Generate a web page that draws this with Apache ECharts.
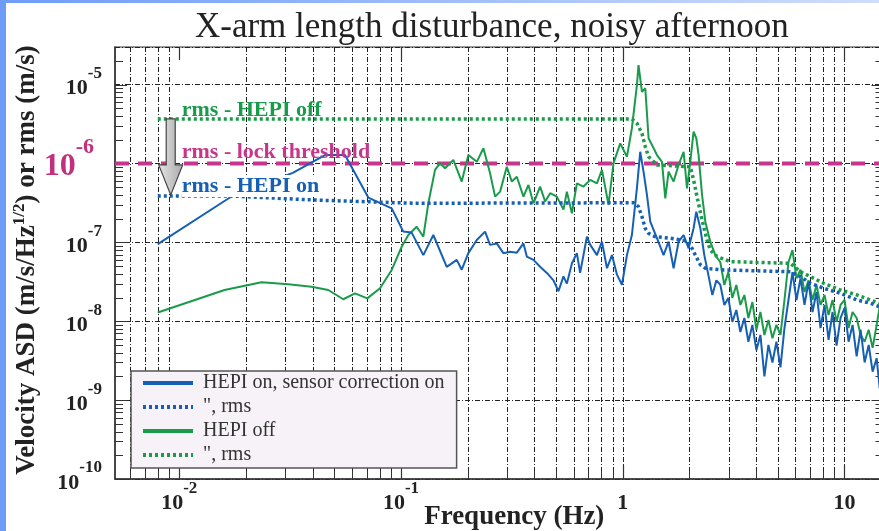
<!DOCTYPE html>
<html>
<head>
<meta charset="utf-8">
<title>X-arm length disturbance, noisy afternoon</title>
<script src="https://cdn.jsdelivr.net/npm/echarts@6/dist/echarts.min.js"></script>
<style>
  html, body { margin: 0; padding: 0; background: #fff; }
  #chart { width: 879px; height: 531px; }
</style>
</head>
<body>
<div id="chart"></div>
<script>
var SERIF = "'Liberation Serif', 'DejaVu Serif', serif";

// [frequency (Hz), velocity ASD (m/s/Hz^1/2)]
var hepiOnAsd = [
  [0.0080, 9.5e-8], [0.0174, 3.9e-7], [0.0325, 7.6e-7], [0.0454, 1.28e-6], [0.0559, 1.28e-6],
  [0.0712, 3.7e-7], [0.0908, 2.7e-7], [0.1024, 1.37e-7], [0.1117, 1.33e-7], [0.1261, 6.9e-8],
  [0.1399, 1.24e-7], [0.1608, 4.9e-8], [0.1784, 6.0e-8], [0.1879, 4.5e-8], [0.2012, 7.3e-8],
  [0.2197, 1.07e-7], [0.2394, 1.37e-7], [0.2522, 9.3e-8], [0.2704, 9.7e-8], [0.2896, 7.3e-8],
  [0.3105, 7.6e-8], [0.3330, 7.4e-8], [0.3566, 9.7e-8], [0.3694, 6.6e-8], [0.3957, 6.0e-8],
  [0.4240, 4.9e-8], [0.4547, 4.1e-8], [0.4872, 3.3e-8], [0.5131, 2.4e-8], [0.5403, 3.7e-8],
  [0.5598, 3.0e-8], [0.5898, 5.4e-8], [0.6211, 7.3e-8], [0.6427, 4.1e-8], [0.6893, 1.18e-7],
  [0.714, 9.3e-8], [0.765, 6.9e-8], [0.806, 1.02e-7], [0.849, 4.7e-8], [0.894, 6.9e-8],
  [0.942, 3.9e-8], [0.992, 2.9e-8], [1.045, 6.9e-8], [1.100, 1.24e-7], [1.159, 4.9e-7],
  [1.199, 1.41e-6], [1.241, 7.9e-7], [1.286, 4.0e-7], [1.331, 1.83e-7], [1.427, 1.13e-7],
  [1.528, 6.9e-8], [1.610, 1.02e-7], [1.696, 4.7e-8], [1.786, 1.02e-7], [1.882, 1.24e-7],
  [1.982, 8.4e-8], [2.087, 1.51e-7], [2.147, 2.45e-7], [2.239, 1.51e-7], [2.333, 6.9e-8],
  [2.432, 3.9e-8], [2.536, 2.15e-8], [2.644, 3.3e-8], [2.755, 2.9e-8], [2.872, 1.61e-8],
  [2.994, 1.97e-8], [3.121, 9.8e-9], [3.254, 1.39e-8], [3.392, 7.3e-9], [3.537, 1.10e-8],
  [3.687, 5.5e-9], [3.844, 9.0e-9], [4.007, 4.3e-9], [4.178, 6.7e-9], [4.355, 2.0e-9],
  [4.540, 5.0e-9], [4.733, 3.0e-9], [4.934, 5.5e-9], [5.144, 2.6e-9], [5.363, 8.2e-9],
  [5.591, 1.86e-8], [5.828, 4.2e-8], [6.076, 1.86e-8], [6.334, 3.5e-8], [6.604, 1.61e-8],
  [6.884, 3.15e-8], [7.177, 1.31e-8], [7.482, 2.35e-8], [7.800, 8.2e-9], [8.131, 1.61e-8],
  [8.477, 5.8e-9], [8.837, 1.31e-8], [9.213, 4.9e-9], [9.604, 1.10e-8], [10.01, 1.47e-8],
  [10.44, 5.5e-9], [10.88, 9.0e-9], [11.35, 3.6e-9], [11.83, 7.8e-9], [12.33, 3.0e-9],
  [12.86, 5.0e-9], [13.40, 2.3e-9], [13.97, 3.4e-9], [14.42, 1.42e-9]
];

var hepiOnRms = [
  [0.0080, 3.87e-7], [0.0172, 3.87e-7], [0.0409, 3.44e-7], [0.1157, 3.13e-7], [1.119, 3.18e-7],
  [1.178, 2.84e-7], [1.221, 2.12e-7], [1.264, 1.5e-7], [1.308, 1.3e-7], [1.402, 1.18e-7],
  [1.639, 1.13e-7], [1.949, 1.04e-7], [2.053, 8.4e-8], [2.125, 6.9e-8], [2.239, 5.2e-8],
  [2.358, 4.7e-8], [2.852, 4.47e-8], [5.705, 4.25e-8], [6.330, 3.67e-8], [7.024, 3.03e-8],
  [8.064, 2.62e-8], [9.592, 2.26e-8], [11.41, 1.86e-8], [13.10, 1.69e-8], [14.39, 1.53e-8]
];

var hepiOffAsd = [
  [0.0080, 1.29e-8], [0.0160, 2.49e-8], [0.0235, 3.12e-8], [0.0310, 2.94e-8], [0.0395, 2.74e-8],
  [0.0470, 2.49e-8], [0.0549, 1.90e-8], [0.0620, 2.26e-8], [0.0705, 1.95e-8], [0.0804, 2.62e-8],
  [0.0908, 4.47e-8], [0.1007, 8.8e-8], [0.1079, 1.24e-7], [0.1177, 1.58e-7], [0.1261, 1.18e-7],
  [0.1328, 3.13e-7], [0.1424, 8.3e-7], [0.1500, 1.01e-6], [0.1580, 8.7e-7], [0.1722, 1.11e-6],
  [0.1879, 5.9e-7], [0.2012, 1.28e-6], [0.2197, 1.05e-6], [0.2353, 1.56e-6], [0.2522, 7.5e-7],
  [0.2657, 3.8e-7], [0.2799, 4.4e-7], [0.3000, 9.1e-7], [0.3161, 5.9e-7], [0.3330, 6.8e-7],
  [0.3566, 3.8e-7], [0.3756, 5.35e-7], [0.3957, 3.13e-7], [0.4240, 5.1e-7], [0.4467, 3.3e-7],
  [0.4707, 4.2e-7], [0.5045, 3.8e-7], [0.5403, 2.6e-7], [0.5598, 4.4e-7], [0.5898, 2.34e-7],
  [0.6211, 5.6e-7], [0.6653, 5.1e-7], [0.7137, 6.2e-7], [0.7647, 5.6e-7], [0.806, 8.3e-7],
  [0.8627, 3.0e-7], [0.909, 1.01e-6], [0.9743, 1.80e-6], [1.045, 1.22e-6], [1.100, 2.80e-6],
  [1.159, 9.9e-6], [1.178, 1.77e-5], [1.221, 8.1e-6], [1.264, 9.0e-6], [1.308, 2.09e-6],
  [1.355, 1.72e-6], [1.427, 1.28e-6], [1.503, 1.05e-6], [1.556, 3.6e-7], [1.610, 7.9e-7],
  [1.696, 5.9e-7], [1.786, 9.6e-7], [1.882, 1.41e-6], [1.949, 4.85e-7], [2.017, 1.05e-6],
  [2.087, 2.53e-6], [2.147, 2.09e-6], [2.199, 1.28e-6], [2.279, 4.0e-7], [2.358, 1.83e-7],
  [2.483, 1.02e-7], [2.616, 6.9e-8], [2.755, 5.6e-8], [2.872, 2.88e-8], [2.994, 4.2e-8],
  [3.121, 1.97e-8], [3.254, 2.88e-8], [3.392, 1.61e-8], [3.537, 2.15e-8], [3.687, 1.10e-8],
  [3.844, 1.75e-8], [4.007, 7.8e-9], [4.178, 1.31e-8], [4.355, 6.7e-9], [4.540, 1.04e-8],
  [4.733, 6.1e-9], [4.934, 9.0e-9], [5.144, 6.7e-9], [5.363, 1.86e-8], [5.591, 5.6e-8],
  [5.828, 8.0e-8], [6.076, 3.5e-8], [6.334, 4.5e-8], [6.604, 2.35e-8], [6.884, 3.3e-8],
  [7.177, 1.86e-8], [7.482, 2.88e-8], [7.800, 1.61e-8], [8.131, 2.15e-8], [8.477, 1.20e-8],
  [8.837, 1.86e-8], [9.213, 9.8e-9], [9.604, 1.61e-8], [10.01, 1.86e-8], [10.44, 8.2e-9],
  [10.88, 1.31e-8], [11.35, 1.10e-8], [11.83, 6.7e-9], [12.33, 5.5e-9], [12.86, 7.8e-9],
  [13.40, 4.6e-9], [13.97, 9.0e-9], [14.42, 1.52e-8]
];

var hepiOffRms = [
  [0.0080, 3.67e-6], [1.100, 3.67e-6], [1.159, 3.24e-6], [1.221, 2.41e-6], [1.264, 1.63e-6],
  [1.308, 1.22e-6], [1.427, 9.6e-7], [2.017, 9.1e-7], [2.087, 6.2e-7], [2.163, 3.8e-7],
  [2.279, 1.92e-7], [2.399, 1.07e-7], [2.483, 8.0e-8], [2.663, 6.6e-8], [3.058, 5.7e-8],
  [5.705, 5.43e-8], [6.330, 4.25e-8], [7.024, 3.67e-8], [8.064, 3.03e-8], [9.592, 2.49e-8],
  [11.41, 2.15e-8], [13.10, 1.86e-8], [14.39, 1.69e-8]
];

var lockThreshold = [[0.00513, 1e-6], [15, 1e-6]];

var seriesNames = ['HEPI on, sensor correction on', 'HEPI on rms', 'HEPI off', 'HEPI off rms'];
var legendLabels = ['HEPI on, sensor correction on', '", rms', 'HEPI off', '", rms'];

// axis ticks
var xTickValues = [0.01, 0.1, 1, 10];
var xTickLabels = [['10', '-2'], ['10', '-1'], ['1', ''], ['10', '']];
var yTickValues = [1e-10, 1e-9, 1e-8, 1e-7, 1e-6, 1e-5];
var yTickLabels = [['10', '-10'], ['10', '-9'], ['10', '-8'], ['10', '-7'], ['10', '-6'], ['10', '-5']];
var xGridValues = [0.006, 0.007, 0.008, 0.009,
  0.02, 0.03, 0.04, 0.05, 0.06, 0.07, 0.08, 0.09,
  0.1, 0.2, 0.3, 0.4, 0.5, 0.6, 0.7, 0.8, 0.9,
  1, 2, 3, 4, 5, 6, 7, 8, 9, 10];
var yMinorTicks = [];
[1e-10, 1e-9, 1e-8, 1e-7, 1e-6].forEach(function (d) {
  [2, 3, 4, 5, 6, 7, 8, 9].forEach(function (m) { yMinorTicks.push(d * m); });
});
yMinorTicks.push(2e-5);

// annotations
var noteText = ['rms - HEPI off', 'rms - lock threshold', 'rms - HEPI on'];
var notePos = [[0.01026, 4.78e-6], [0.01026, 1.40e-6], [0.01026, 5.19e-7]];
var noteColor = ['#1a9b4b', '#c7368c', '#1560b5'];
var arrowData = [[0.00915, 3.67e-6, 4.0e-7]];

var BLUE = '#1560b5', GREEN = '#1a9b4b', MAGENTA = '#c7368c';

function findTick(values, v) {
  var lv = Math.log10(v);
  for (var i = 0; i < values.length; i++) {
    if (Math.abs(Math.log10(values[i]) - lv) < 0.01) return i;
  }
  return -1;
}

function tickRich() {
  return {
    b: { fontFamily: SERIF, fontSize: 22, fontWeight: 'bold', color: '#222', lineHeight: 39,
         verticalAlign: 'bottom', padding: [0, 0, 4.5, 0] },
    e: { fontFamily: SERIF, fontSize: 17, fontWeight: 'bold', color: '#222', lineHeight: 17,
         verticalAlign: 'top' },
    mb: { fontFamily: SERIF, fontSize: 32, fontWeight: 'bold', color: '#c0307f', lineHeight: 54,
          verticalAlign: 'bottom', padding: [0, 0, 7.5, 0] },
    me: { fontFamily: SERIF, fontSize: 22, fontWeight: 'bold', color: '#c0307f', lineHeight: 22,
          verticalAlign: 'top', padding: [0, 8, 0, 0] }
  };
}

function renderXGrid(params, api) {
  var cs = params.coordSys;
  var x = Math.round(api.coord([api.value(0), api.value(1)])[0]) + 0.5;
  return {
    type: 'group',
    children: [
      { type: 'line', shape: { x1: x, y1: cs.y, x2: x, y2: cs.y + cs.height },
        style: { stroke: '#222', lineWidth: 1, lineDash: [5, 2, 1, 2] } },
      { type: 'line', shape: { x1: x, y1: cs.y + cs.height - 8, x2: x, y2: cs.y + cs.height },
        style: { stroke: '#333', lineWidth: 1 } }
    ]
  };
}

function renderXMajor(params, api) {
  var cs = params.coordSys;
  var x = Math.round(api.coord([api.value(0), api.value(1)])[0]) + 0.5;
  return {
    type: 'group',
    children: [
      { type: 'line', shape: { x1: x, y1: cs.y, x2: x, y2: cs.y + 13 }, style: { stroke: '#333', lineWidth: 1.2 } },
      { type: 'line', shape: { x1: x, y1: cs.y + cs.height - 14, x2: x, y2: cs.y + cs.height }, style: { stroke: '#333', lineWidth: 1.2 } }
    ]
  };
}

function renderYTicks(params, api) {
  var cs = params.coordSys;
  var y = Math.round(api.coord([api.value(0), api.value(1)])[1]) + 0.5;
  var len = api.value(2);
  return {
    type: 'group',
    children: [
      { type: 'line', shape: { x1: cs.x, y1: y, x2: cs.x + len, y2: y }, style: { stroke: '#333', lineWidth: 1 } },
      { type: 'line', shape: { x1: cs.x + cs.width - len, y1: y, x2: cs.x + cs.width, y2: y }, style: { stroke: '#333', lineWidth: 1 } }
    ]
  };
}

function renderArrow(params, api) {
  var top = api.coord([api.value(0), api.value(1)]);
  var tip = api.coord([api.value(0), api.value(2)]);
  var x = top[0], hw = 4.5, hh = 12, yb = tip[1] - 30;
  return {
    type: 'polygon',
    shape: { points: [[x - hw, top[1]], [x + hw, top[1]], [x + hw, yb], [x + hh, yb], [x, tip[1]], [x - hh, yb], [x - hw, yb]] },
    style: {
      fill: new echarts.graphic.LinearGradient(0, 0, 1, 0, [
        { offset: 0, color: '#e6e6e6' }, { offset: 1, color: '#a8a8a8' }
      ]),
      stroke: '#444', lineWidth: 1.2
    }
  };
}

function renderNotes(params, api) {
  var p = api.coord([api.value(0), api.value(1)]);
  var i = params.dataIndex;
  return {
    type: 'text',
    x: p[0], y: p[1],
    style: {
      text: noteText[i], fill: noteColor[i],
      fontFamily: SERIF, fontSize: 22, fontWeight: 'bold',
      textAlign: 'left', textVerticalAlign: 'middle',
      backgroundColor: i === 2 ? '#fff' : 'transparent'
    }
  };
}

var chart = echarts.init(document.getElementById('chart'));

chart.setOption({
  animation: false,
  backgroundColor: '#fff',
  title: {
    text: 'X-arm length disturbance, noisy afternoon',
    left: 190, top: 5,
    textStyle: { fontFamily: SERIF, fontSize: 35, fontWeight: 'normal', color: '#222' }
  },
  graphic: [
    { type: 'rect', left: 0, top: 0, shape: { width: 6, height: 531 }, style: { fill: '#6e9cf7' }, z: 100 },
    { type: 'rect', left: 0, top: 0, shape: { width: 879, height: 3 },
      style: { fill: new echarts.graphic.LinearGradient(0, 0, 1, 0, [
        { offset: 0, color: '#6e9cf7' }, { offset: 1, color: '#d0ddfb' }]) }, z: 100 }
  ],
  legend: {
    orient: 'vertical',
    left: 131, top: 371,
    itemWidth: 50, itemHeight: 14, itemGap: 4,
    padding: [2, 12, 3, 10],
    backgroundColor: '#f7f2f7',
    borderColor: '#555', borderWidth: 1.5,
    textStyle: { fontFamily: SERIF, fontSize: 20, color: '#333', padding: [0, 0, 0, 5] },
    formatter: function (name) { return legendLabels[seriesNames.indexOf(name)]; },
    data: seriesNames.map(function (n) {
      return { name: n, lineStyle: { width: 4 }, itemStyle: { opacity: 0 } };
    })
  },
  grid: {
    left: 115, top: 47, right: -4.5, bottom: 52,
    outerBoundsMode: 'none', containLabel: false,
    show: true, borderColor: '#333', borderWidth: 1.2
  },
  xAxis: {
    type: 'log', logBase: 10, min: 0.00513, max: 15,
    axisLine: { show: true, onZero: false, lineStyle: { color: '#333', width: 1.5 } },
    axisTick: { show: false },
    splitLine: { show: false },
    axisLabel: {
      margin: 1,
      formatter: function (v) {
        var i = findTick(xTickValues, v);
        if (i < 0) return '';
        var t = xTickLabels[i];
        return t[1] ? '{b|' + t[0] + '}{e|' + t[1] + '}' : '{b|' + t[0] + '}';
      },
      rich: tickRich()
    },
    name: 'Frequency (Hz)',
    nameLocation: 'middle', nameGap: 25, nameMoveOverlap: false,
    nameTextStyle: { fontFamily: SERIF, fontSize: 27, fontWeight: 'bold', color: '#222', padding: [0, 0, 0, 30] }
  },
  yAxis: {
    type: 'log', logBase: 10, min: 1e-10, max: 3e-5,
    axisLine: { show: true, lineStyle: { color: '#333', width: 1.5 } },
    axisTick: { show: false },
    splitLine: { show: true, lineStyle: { color: '#222', width: 1, type: [5, 2, 1, 2] } },
    axisLabel: {
      margin: 13,
      formatter: function (v) {
        var i = findTick(yTickValues, v);
        if (i < 0) return '';
        var t = yTickLabels[i];
        if (t[1] === '-6') return '{mb|' + t[0] + '}{me|' + t[1] + '}';
        return '{b|' + t[0] + '}{e|' + t[1] + '}';
      },
      rich: tickRich()
    },
    name: 'Velocity ASD (m/s/Hz{s|1/2}) or rms (m/s)',
    nameLocation: 'middle', nameGap: 72, nameMoveOverlap: false,
    nameTextStyle: {
      fontFamily: SERIF, fontSize: 27, fontWeight: 'bold', color: '#222', lineHeight: 32,
      padding: [0, 0, 0, 6],
      rich: { s: { fontFamily: SERIF, fontSize: 17, fontWeight: 'bold', color: '#222', lineHeight: 17, verticalAlign: 'top' } }
    }
  },
  series: [
    { type: 'custom', name: 'xgrid', silent: true, z: 1, renderItem: renderXGrid,
      data: xGridValues.map(function (v) { return [v, 1e-8]; }) },
    { type: 'custom', name: 'xmajor', silent: true, z: 1, renderItem: renderXMajor,
      data: xTickValues.map(function (v) { return [v, 1e-8]; }) },
    { type: 'custom', name: 'yticks', silent: true, z: 1, renderItem: renderYTicks,
      data: yMinorTicks.map(function (v) { return [0.01, v, 8]; })
        .concat(yTickValues.map(function (v) { return [0.01, v, 12]; })) },
    { type: 'line', name: 'lock threshold', data: lockThreshold, symbol: 'none', silent: true, z: 2,
      lineStyle: { color: MAGENTA, width: 4, type: [14, 9] } },
    { type: 'line', name: seriesNames[2], data: hepiOffAsd, symbol: 'none', z: 3,
      itemStyle: { color: GREEN }, lineStyle: { color: GREEN, width: 2 } },
    { type: 'line', name: seriesNames[0], data: hepiOnAsd, symbol: 'none', z: 3,
      itemStyle: { color: BLUE }, lineStyle: { color: BLUE, width: 2 } },
    { type: 'line', name: seriesNames[3], data: hepiOffRms, symbol: 'none', z: 3,
      itemStyle: { color: GREEN }, lineStyle: { color: GREEN, width: 3.5, type: [3, 3] } },
    { type: 'line', name: seriesNames[1], data: hepiOnRms, symbol: 'none', z: 3,
      itemStyle: { color: BLUE }, lineStyle: { color: BLUE, width: 3.5, type: [3, 3] } },
    { type: 'custom', name: 'arrow', silent: true, z: 6, renderItem: renderArrow, data: arrowData },
    { type: 'custom', name: 'notes', silent: true, z: 6, renderItem: renderNotes, data: notePos }
  ]
});
</script>
</body>
</html>
